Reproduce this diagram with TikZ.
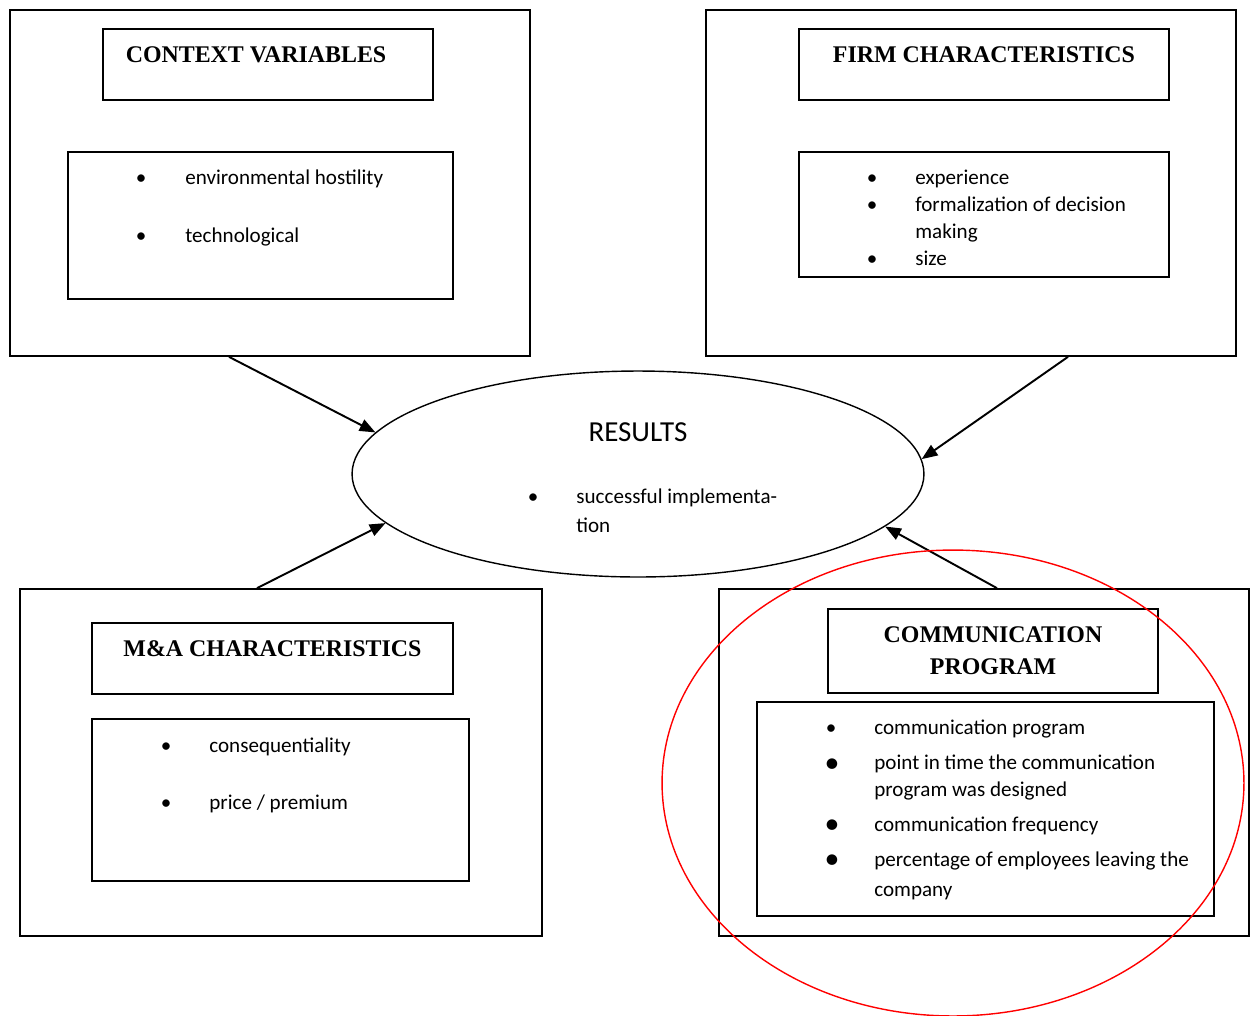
\documentclass[tikz,border=0pt]{standalone}
\usepackage{fontspec}
\setmainfont{Carlito}
\newfontfamily\headfont{Liberation Serif}
\usetikzlibrary{shapes.geometric, arrows.meta}
\tikzset{
    outer/.style={draw, line width=1pt, inner sep=0},
    titlebox/.style={draw, line width=1pt, inner sep=0, anchor=north, align=center,
        font=\headfont\bfseries\fontsize{13.6}{18}\selectfont},
    title/.style={titlebox, text height=0.67cm, text depth=0.75cm},
    listbox/.style={draw, line width=1pt, inner sep=0},
    item/.style={anchor=mid west, inner sep=0, align=left, yshift=-0.06cm,
        font=\fontsize{12}{15}\selectfont},
    dot/.style={anchor=mid, inner sep=0, yshift=-0.06cm, font=\fontsize{12}{15}\selectfont},
    bigdot/.style={dot, font=\fontsize{17}{18}\selectfont},
    conn/.style={-{Triangle[length=9pt, width=7pt]}, line width=1.1pt},
    hilite/.style={draw=red, ellipse, line width=0.8pt, inner sep=0}
}
\begin{document}
\begin{tikzpicture}[x=0.02cm, y=-0.02cm]
    \useasboundingbox (0,0) rectangle (1250,1015);
    % outer frames
    \node[outer, minimum width=10.4cm, minimum height=6.92cm] (ctx) at (270,183) {};
    \node[outer, minimum width=10.6cm, minimum height=6.92cm] (firm) at (971,183) {};
    \node[outer, minimum width=10.44cm, minimum height=6.94cm] (ma) at (281,762.5) {};
    \node[outer, minimum width=10.6cm, minimum height=6.94cm] (comm) at (984,762.5) {};
    % titles
    \node[title, minimum width=6.6cm] (ctx-title) at (268,28) {CONTEXT VARIABLES\hspace{0.48cm}};
    \node[title, minimum width=7.4cm] (firm-title) at (984,28) {FIRM CHARACTERISTICS};
    \node[title, minimum width=7.22cm] (ma-title) at (272.5,622) {M\&A CHARACTERISTICS};
    \node[titlebox, minimum width=6.6cm, minimum height=1.68cm] (comm-title) at (993,608)
        {COMMUNICATION\\PROGRAM};
    % lists
    \node[listbox, minimum width=7.7cm, minimum height=2.94cm] (ctx-list) at (260.5,225.5) {};
    \node[listbox, minimum width=7.4cm, minimum height=2.5cm] (firm-list) at (984,214.5) {};
    \node[listbox, minimum width=7.54cm, minimum height=3.24cm] (ma-list) at (280.5,800) {};
    \node[listbox, minimum width=9.14cm, minimum height=4.28cm] (comm-list) at (985.5,809) {};
    \foreach \yy/\txt [count=\i] in {177/environmental hostility, 235/technological}{
        \node[dot] (ctx-dot\i) at (141,\yy) {•};
        \node[item] (ctx-item\i) at (185,\yy) {\txt};
    }
    \foreach \yy/\txt [count=\i] in {177/experience, 204/formalization of decision, 258/size}{
        \node[dot] (firm-dot\i) at (872,\yy) {•};
    }
    \foreach \yy/\txt [count=\i] in {177/experience, 231/{formalization of decision\\[0.4pt]making}, 258/size}{
        \node[item] (firm-item\i) at (915,\yy) {\txt};
    }
    \foreach \yy/\txt [count=\i] in {745/consequentiality, 802/{price / premium}}{
        \node[dot] (ma-dot\i) at (166,\yy) {•};
        \node[item] (ma-item\i) at (209,\yy) {\txt};
    }
    \node[dot] (comm-dot1) at (831,727) {•};
    \foreach \yy [count=\i from 2] in {763, 824, 859}{
        \node[bigdot] (comm-dot\i) at (832,\yy+2) {•};
    }
    \foreach \yy/\txt [count=\i] in {727/communication program,
        789/{point in time the communication\\program was designed},
        824/communication frequency, 889/{percentage of employees leaving the\\[2pt]company}}{
        \node[item] (comm-item\i) at (874,\yy) {\txt};
    }
    % results
    \node[draw, ellipse, line width=0.8pt, inner sep=0, minimum width=11.44cm, minimum height=4.12cm]
        (res) at (638,474) {};
    \node[inner sep=0, font=\fontsize{16.5}{20}\selectfont] (res-title) at (638,432) {RESULTS};
    \node[dot] (res-dot) at (533,496) {•};
    \node[item] (res-item) at (576,525) {successful implementa-\\[1.5pt]tion};
    % connectors
    \draw[conn] ([xshift=-0.82cm]ctx.south) -- (res.171);
    \draw[conn] ([xshift=1.94cm]firm.south) -- (res.3);
    \draw[conn] ([xshift=-0.48cm]ma.north) -- (res.191);
    \draw[conn] ([xshift=0.26cm]comm.north) -- (res.348);
    % highlight
    \node[hilite, minimum width=11.64cm, minimum height=9.32cm] (mark) at (953,783) {};
\end{tikzpicture}
\end{document}
